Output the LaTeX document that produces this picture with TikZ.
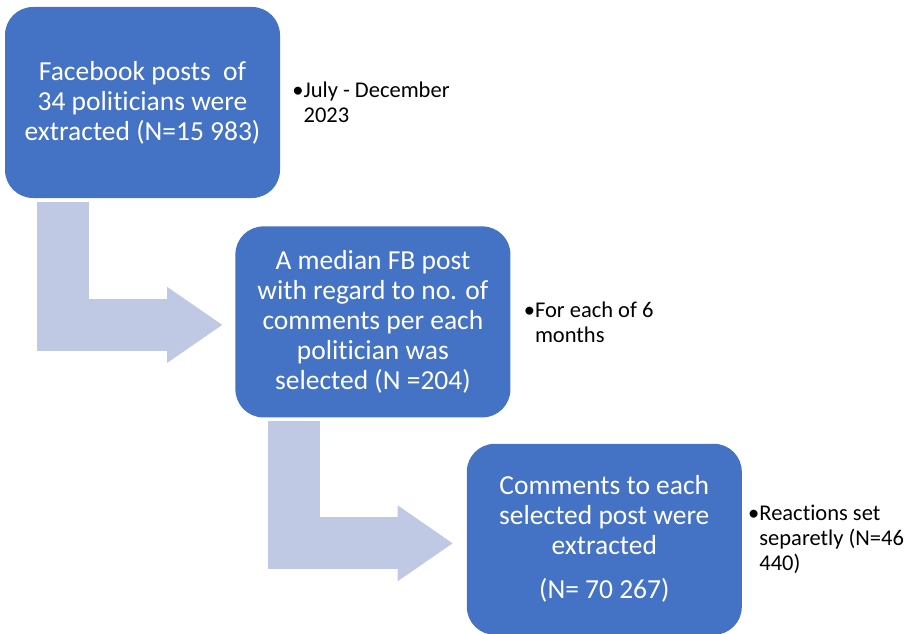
\documentclass[tikz,border=0pt]{standalone}
\usepackage{fontspec}
\setmainfont{Carlito}[Ligatures=NoCommon]
\usetikzlibrary{positioning, arrows.meta}
\definecolor{boxblue}{RGB}{68,114,196}
\definecolor{flowblue}{RGB}{192,201,228}
\tikzset{%
	stage/.style={rectangle, fill=boxblue, text=white, rounded corners=28pt,%
		minimum width=275pt, minimum height=191pt, inner sep=0pt, align=center,%
		font=\fontsize{27.5}{30}\selectfont},
	note/.style={align=left, inner sep=0pt, font=\fontsize{22.5}{25}\selectfont},
	flow/.style={draw=flowblue, line width=52pt,%
		-{Triangle[length=55pt, width=76pt, line width=0pt]}}
}

\begin{document}
\begin{tikzpicture}[x=1pt, y=-1pt]
	\useasboundingbox (0,0) rectangle (907,634);
	\node[stage] (posts) at (142.5,102.5) {Facebook posts~ of\\34 politicians were\\extracted (N=15 983)};
	\node[stage, below right=28pt and -45pt of posts] (median) {A median FB post\\with regard to no. of\\comments per each\\politician was\\selected (N =204)};
	\node[stage, below right=26pt and -44pt of median] (comments) {Comments to each\\selected post were\\extracted\\[14pt](N= 70 267)};

	\node[note, right=12pt of posts] (period) {•July - December\\\hphantom{•}2023};
	\node[note, right=13pt of median] (months) {•For each of 6\\\hphantom{•}months};
	\node[note, right=6pt of comments] (reactions) {•Reactions set\\\hphantom{•}separetly (N=46\\\hphantom{•}440)};

	\draw[flow] ([xshift=58pt, yshift=-4pt]posts.south west) |- ([xshift=-13pt, yshift=-3pt]median.west);
	\draw[flow] ([xshift=59pt, yshift=-3pt]median.south west) |- ([xshift=-14pt, yshift=-4pt]comments.west);
\end{tikzpicture}
\end{document}
